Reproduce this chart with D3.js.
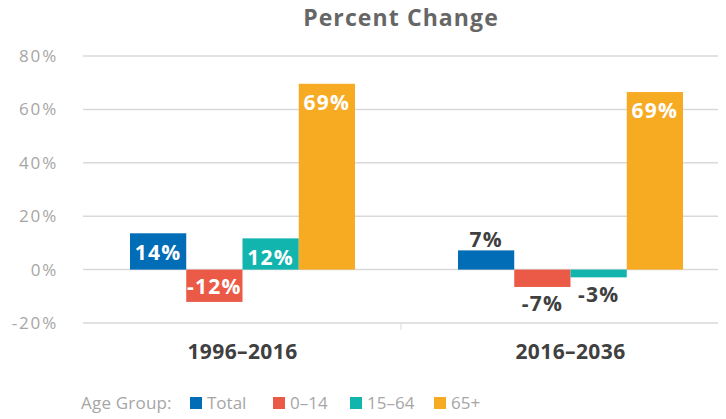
<!DOCTYPE html>
<html lang="en">
<head>
    <meta charset="UTF-8">
    <title>Percent Change</title>
    <script src="https://d3js.org/d3.v7.min.js"></script>
    <style>
        body { margin: 0; background: #fff; }
        svg { display: block; font-family: "Open Sans", sans-serif; }
    </style>
</head>
<body>
    <div id="chart"></div>

    <script>
        const width = 726;
        const height = 419;

        // data
        const periods = ["1996\u20132016", "2016\u20132036"];
        const groups = ["Total", "0\u201314", "15\u201364", "65+"];
        const colors = ["#006db6", "#eb5a47", "#11b5ae", "#f7ab22"];
        const values1996 = [13.6, -12.1, 11.7, 69.6];
        const values2016 = [7.2, -6.5, -2.9, 66.5];
        const labels1996 = ["14%", "-12%", "12%", "69%"];
        const labels2016 = ["7%", "-7%", "-3%", "69%"];
        const yTicks = [-20, 0, 20, 40, 60, 80];

        const series = [
            { period: periods[0], values: values1996, labels: labels1996 },
            { period: periods[1], values: values2016, labels: labels2016 }
        ];

        const svg = d3.select("#chart")
                      .append("svg")
                      .attr("width", width)
                      .attr("height", height);

        const gridLeft = 83, gridRight = 718;

        const y = d3.scaleLinear().domain([-20, 80]).range([323, 56]);

        const x0 = d3.scaleBand()
                     .domain(periods)
                     .range([78.5, 734.5])
                     .paddingInner(0.314)
                     .paddingOuter(0.157);

        const x1 = d3.scaleBand()
                     .domain(groups)
                     .range([0, x0.bandwidth()]);

        const color = d3.scaleOrdinal().domain(groups).range(colors);

        // title
        svg.append("text")
           .attr("x", 401)
           .attr("y", 26)
           .attr("text-anchor", "middle")
           .style("font-size", "23px")
           .style("font-weight", "bold")
           .style("letter-spacing", "1.1px")
           .style("fill", "#666")
           .text("Percent Change");

        // gridlines + y labels
        const yAxis = svg.append("g");
        yAxis.selectAll("line")
             .data(yTicks)
             .enter()
             .append("line")
             .attr("x1", gridLeft)
             .attr("x2", gridRight)
             .attr("y1", d => y(d))
             .attr("y2", d => y(d))
             .style("stroke", "#d9d9d9")
             .style("stroke-width", 1.5);

        yAxis.selectAll("text")
             .data(yTicks)
             .enter()
             .append("text")
             .attr("x", 58)
             .attr("y", d => y(d))
             .attr("dy", "0.35em")
             .attr("text-anchor", "end")
             .style("font-size", "17px")
             .style("letter-spacing", "1.8px")
             .style("fill", "#a6a6a6")
             .text(d => d + "%");

        // divider tick between the two periods
        svg.append("line")
           .attr("x1", 401).attr("x2", 401)
           .attr("y1", y(-20)).attr("y2", y(-20) + 7)
           .style("stroke", "#d9d9d9");

        // period labels
        svg.selectAll(".period")
           .data(periods)
           .enter()
           .append("text")
           .attr("class", "period")
           .attr("x", d => x0(d) + x0.bandwidth() / 2)
           .attr("y", 352)
           .attr("dy", "0.35em")
           .attr("text-anchor", "middle")
           .style("font-size", "21px")
           .style("font-weight", "bold")
           .style("letter-spacing", "0.4px")
           .style("fill", "#404040")
           .text(d => d);

        // bars
        const periodG = svg.selectAll(".grp")
                           .data(series)
                           .enter()
                           .append("g")
                           .attr("transform", d => `translate(${x0(d.period)},0)`);

        const cells = periodG.selectAll("g")
                             .data(d => groups.map((g, i) => ({ group: g, value: d.values[i], label: d.labels[i] })))
                             .enter()
                             .append("g");

        cells.append("rect")
             .attr("x", d => x1(d.group))
             .attr("width", x1.bandwidth())
             .attr("y", d => y(Math.max(0, d.value)))
             .attr("height", d => Math.abs(y(d.value) - y(0)))
             .style("fill", d => color(d.group));

        cells.append("text")
             .attr("x", d => x1(d.group) + x1.bandwidth() / 2)
             .attr("y", d => {
                 const inside = Math.abs(d.value) > 10;
                 if (d.value >= 0) return inside ? y(d.value) + 19 : y(d.value) - 11;
                 return inside ? y(d.value) - 15 : y(d.value) + 17;
             })
             .attr("dy", "0.35em")
             .attr("text-anchor", "middle")
             .style("font-size", "21px")
             .style("font-weight", "bold")
             .style("letter-spacing", "1.2px")
             .style("fill", d => Math.abs(d.value) > 10 ? "#fff" : "#404040")
             .text(d => d.label);

        // legend
        const legend = svg.append("g").attr("transform", "translate(0,403)");
        legend.append("text")
              .attr("x", 81)
              .attr("dy", "0.35em")
              .style("font-size", "17px")
              .style("letter-spacing", "0.2px")
              .style("fill", "#a6a6a6")
              .text("Age Group:");

        const legendX = [190, 273, 350, 434];
        const items = legend.selectAll(".item")
                            .data(groups)
                            .enter()
                            .append("g")
                            .attr("transform", (d, i) => `translate(${legendX[i]},0)`);
        items.append("rect")
             .attr("y", -6)
             .attr("width", 12)
             .attr("height", 12)
             .style("fill", d => color(d));
        items.append("text")
             .attr("x", 17)
             .attr("dy", "0.35em")
             .style("font-size", "17px")
             .style("fill", "#a6a6a6")
             .text(d => d);
    </script>
</body>
</html>
